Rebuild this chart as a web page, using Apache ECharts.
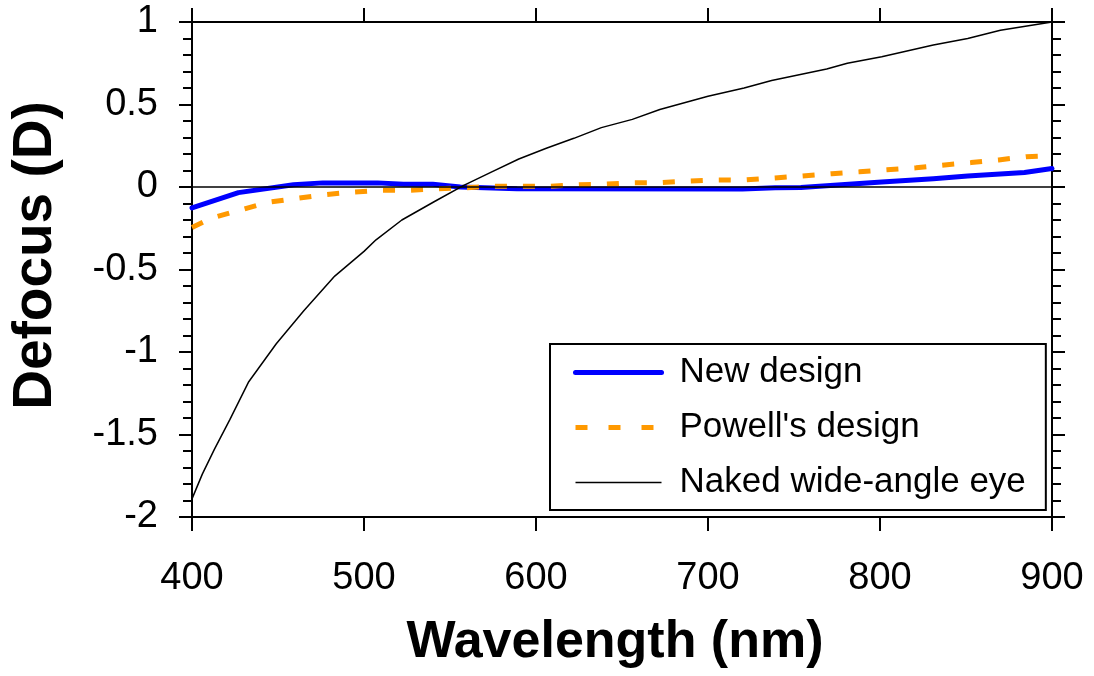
<!DOCTYPE html>
<html>
<head>
<meta charset="utf-8">
<script src="https://cdn.jsdelivr.net/npm/echarts@6/dist/echarts.min.js"></script>
<style>
html,body{margin:0;padding:0;background:#fff;}
#chart{width:1094px;height:676px;}
</style>
</head>
<body>
<div id="chart"></div>
<script>
// ---- data ----
const seriesNames = ["New design", "Powell's design", "Naked wide-angle eye"];

const newWl   = [400, 427, 459, 476, 508, 523, 540, 556, 589, 720, 739, 754, 801, 831, 851, 884, 900];
const newVal  = [-0.127, -0.034, 0.014, 0.025, 0.025, 0.016, 0.016, 0.0, -0.01, -0.012, -0.005, -0.003, 0.03, 0.05, 0.066, 0.088, 0.112];

const powWl   = [400, 411, 428, 444, 460, 477, 493, 510, 526, 543, 559, 575, 592, 608, 625, 640, 657, 673, 689, 706, 722, 739, 755, 772, 788, 804, 821, 836, 853, 869, 885, 900];
const powVal  = [-0.245, -0.19, -0.14, -0.093, -0.07, -0.047, -0.031, -0.02, -0.02, -0.011, -0.005, 0.004, 0.004, 0.004, 0.014, 0.017, 0.026, 0.027, 0.036, 0.043, 0.043, 0.055, 0.067, 0.081, 0.092, 0.104, 0.116, 0.132, 0.148, 0.164, 0.184, 0.19];

const eyeWl   = [400, 406, 413, 422, 433, 449, 465, 483, 500, 507, 522, 541, 558, 574, 590, 606, 622, 638, 656, 672, 700, 721, 737, 769, 781, 801, 831, 851, 870, 900];
const eyeVal  = [-1.89, -1.74, -1.59, -1.41, -1.18, -0.95, -0.75, -0.54, -0.39, -0.32, -0.20, -0.088, 0.01, 0.09, 0.17, 0.235, 0.295, 0.36, 0.41, 0.47, 0.55, 0.60, 0.645, 0.715, 0.75, 0.79, 0.86, 0.90, 0.95, 1.0];

const xTicks = [400, 500, 600, 700, 800, 900];
const yTicks = [-2, -1.5, -1, -0.5, 0, 0.5, 1];

function pairs(xs, ys){ return xs.map((x,i)=>[x, ys[i]]); }

const FONT = "'Liberation Sans', Arial, sans-serif";
const black = '#000';
const blue = '#0000ff';
const orange = '#ff9900';

const axisLineStyle = {color: black, width: 2};

function xAxisCfg(pos, showLabels){
  return {
    type: 'value', position: pos,
    min: xTicks[0], max: xTicks[xTicks.length-1], interval: 100,
    axisLine: {show: true, onZero: false, lineStyle: axisLineStyle},
    axisTick: {show: true, inside: false, length: 14, lineStyle: axisLineStyle},
    axisLabel: {show: showLabels, fontSize: 38, color: black, fontFamily: FONT, margin: 43},
    splitLine: {show: false}
  };
}
function yAxisCfg(pos, showLabels){
  return {
    type: 'value', position: pos,
    min: yTicks[0], max: yTicks[yTicks.length-1], interval: 0.5,
    axisLine: {show: true, onZero: false, lineStyle: axisLineStyle},
    axisTick: {show: true, inside: false, length: 13, lineStyle: axisLineStyle},
    minorTick: {show: true, splitNumber: 5, length: 9, lineStyle: axisLineStyle},
    axisLabel: {show: showLabels, fontSize: 38, color: black, fontFamily: FONT, margin: 34},
    splitLine: {show: false}
  };
}

const xBottom = xAxisCfg('bottom', true);
xBottom.name = 'Wavelength (nm)';
xBottom.nameLocation = 'middle';
xBottom.nameGap = 100;
xBottom.nameTextStyle = {fontSize: 52, fontWeight: 'bold', color: black, fontFamily: FONT, padding: [0, 14, 0, 0]};

const yLeft = yAxisCfg('left', true);
yLeft.name = 'Defocus (D)';
yLeft.nameLocation = 'middle';
yLeft.nameGap = 129;
yLeft.nameTextStyle = {fontSize: 55, fontWeight: 'bold', color: black, fontFamily: FONT, padding: [0, 0, 0, 28]};

const chart = echarts.init(document.getElementById('chart'), null, {renderer: 'canvas'});
chart.setOption({
  backgroundColor: '#fff',
  animation: false,
  grid: {left: 189, right: 42, top: 22, bottom: 159, containLabel: false},
  xAxis: [xBottom, xAxisCfg('top', false)],
  yAxis: [yLeft, yAxisCfg('right', false)],
  legend: {
    orient: 'vertical', left: 550, top: 344,
    padding: [11, 20, 10, 23],
    borderColor: black, borderWidth: 2, borderRadius: 0,
    backgroundColor: '#fff',
    itemWidth: 86, itemHeight: 20, itemGap: 20,
    itemStyle: {opacity: 0},
    textStyle: {fontSize: 35, color: black, fontFamily: FONT, lineHeight: 35, padding: [0, 0, 0, 13]},
    data: [
      {name: seriesNames[0], itemStyle: {opacity: 0}, lineStyle: {color: blue, width: 5, cap: 'round', type: 'solid'}},
      {name: seriesNames[1], itemStyle: {opacity: 0}, lineStyle: {color: orange, width: 5, type: [12, 21]}},
      {name: seriesNames[2], itemStyle: {opacity: 0}, lineStyle: {color: black, width: 1.5, type: 'solid'}}
    ]
  },
  series: [
    {
      name: seriesNames[0], type: 'line', data: pairs(newWl, newVal),
      symbol: 'none', z: 3,
      lineStyle: {color: blue, width: 5, cap: 'round', join: 'round'},
      itemStyle: {color: blue}
    },
    {
      name: seriesNames[1], type: 'line', data: pairs(powWl, powVal),
      symbol: 'none', z: 4,
      lineStyle: {color: orange, width: 5, type: [12, 16]},
      itemStyle: {color: orange}
    },
    {
      name: seriesNames[2], type: 'line', data: pairs(eyeWl, eyeVal),
      symbol: 'none', z: 5,
      lineStyle: {color: black, width: 1.5},
      itemStyle: {color: black},
      markLine: {
        silent: true, symbol: ['none', 'none'], label: {show: false},
        lineStyle: {color: black, width: 1.5, type: 'solid'},
        data: [{yAxis: 0}]
      }
    }
  ]
});
</script>
</body>
</html>
